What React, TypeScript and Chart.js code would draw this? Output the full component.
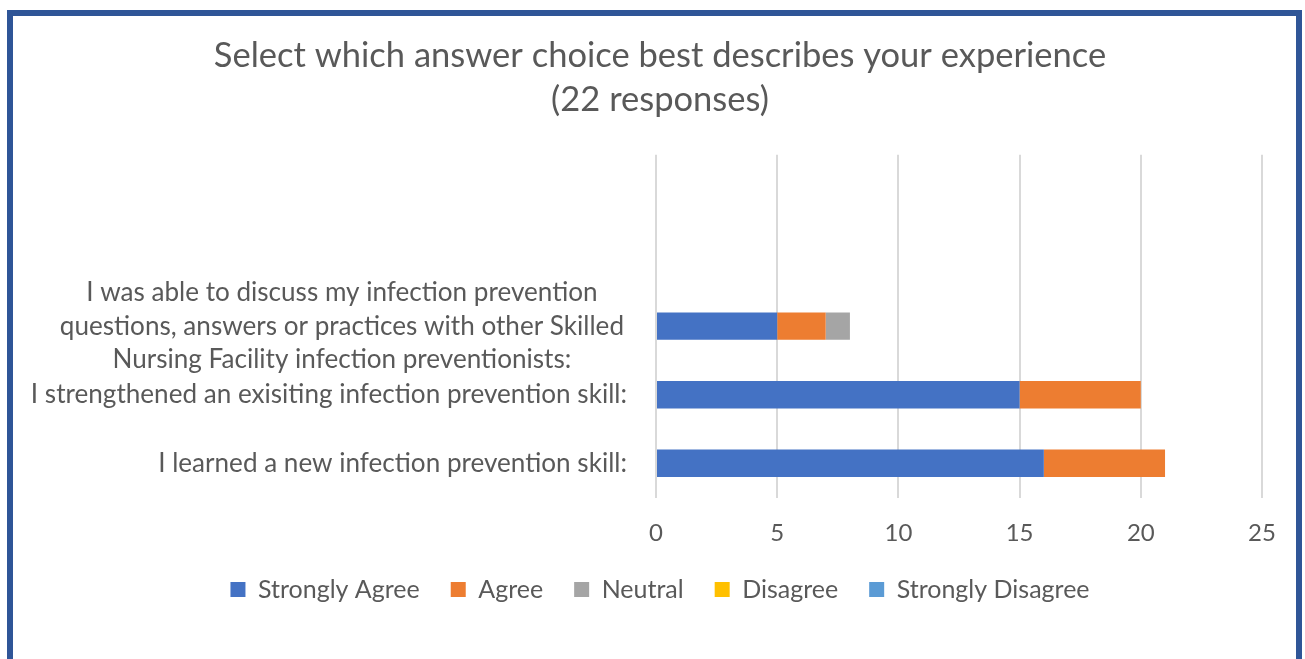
import React, { useEffect, useRef } from "react";
import { Chart, registerables } from "chart.js";
Chart.register(...registerables);

const FONT = "Lato, 'Liberation Sans', sans-serif";
const TEXT = "#595959";

const titleLines = ["Select which answer choice best describes your experience", "(22 responses)"];
const categories: (string | string[])[] = [
  "",
  "",
  [
    "I was able to discuss my infection prevention",
    "questions, answers or practices with other Skilled",
    "Nursing Facility infection preventionists:",
  ],
  "I strengthened an exisiting infection prevention skill:",
  "I learned a new infection prevention skill:",
];
const seriesNames = ["Strongly Agree", "Agree", "Neutral", "Disagree", "Strongly Disagree"];
const seriesColors = ["#4472C4", "#ED7D31", "#A5A5A5", "#FFC000", "#5B9BD5"];
const stronglyAgree = [null, null, 5, 15, 16];
const agree = [null, null, 2, 5, 5];
const neutral = [null, null, 1, 0, 0];
const disagree = [null, null, 0, 0, 0];
const stronglyDisagree = [null, null, 0, 0, 0];
const xMin = 0;
const xMax = 25;
const xStep = 5;

const yLabelPlugin = {
  id: "yLabels",
  afterDraw(chart: any) {
    const { ctx, chartArea, scales } = chart;
    const y = scales.y;
    ctx.save();
    ctx.font = `26.1px ${FONT}`;
    ctx.fillStyle = TEXT;
    ctx.textBaseline = "middle";
    ctx.textAlign = "right";
    (chart.data.labels as any[]).forEach((lab, i) => {
      const lines: string[] = Array.isArray(lab) ? lab : [lab];
      if (!lines.join("")) return;
      const widths = lines.map((l) => ctx.measureText(l).width);
      const maxW = Math.max(...widths);
      const right = lines.length > 1 ? chartArea.left - 32 : chartArea.left - 29;
      const yc = y.getPixelForValue(i);
      const lh = 33.5;
      lines.forEach((l, j) =>
        ctx.fillText(l, right - (maxW - widths[j]) / 2, yc + (j - (lines.length - 1) / 2) * lh)
      );
    });
    ctx.restore();
  },
};

export default function App() {
  const ref = useRef<HTMLCanvasElement>(null);
  useEffect(() => {
    if (!ref.current) return;
    const all = [stronglyAgree, agree, neutral, disagree, stronglyDisagree];
    const chart = new Chart(ref.current, {
      type: "bar",
      data: {
        labels: categories as any,
        datasets: all.map((d, i) => ({
          label: seriesNames[i],
          data: d as any,
          backgroundColor: seriesColors[i],
          borderWidth: 0,
          categoryPercentage: 1,
          barPercentage: 0.4,
        })),
      },
      options: {
        indexAxis: "y",
        animation: false,
        responsive: false,
        maintainAspectRatio: false,
        layout: { padding: { left: 45, right: 34, top: 0, bottom: 47 } },
        plugins: {
          tooltip: { enabled: false },
          title: {
            display: true,
            text: titleLines,
            color: TEXT,
            font: { family: FONT, size: 34.5, weight: "normal", lineHeight: 1.3 },
            padding: { top: 17, bottom: 32 },
          },
          legend: {
            position: "bottom",
            labels: {
              color: TEXT,
              font: { family: FONT, size: 25 },
              boxWidth: 15,
              boxHeight: 15,
              padding: 31,
            },
          },
        },
        scales: {
          x: {
            stacked: true,
            min: xMin,
            max: xMax,
            ticks: {
              stepSize: xStep,
              color: TEXT,
              font: { family: FONT, size: 24, lineHeight: 1.1 },
              padding: 0,
            },
            grid: {
              color: "#D9D9D9",
              lineWidth: 2,
              drawTicks: true,
              tickLength: 22,
              tickColor: "rgba(0,0,0,0)",
            },
            border: { display: false },
          },
          y: {
            stacked: true,
            ticks: { display: false },
            grid: { display: false, drawTicks: false },
            border: { display: false },
            afterFit: (s: any) => {
              s.width = 598;
            },
          },
        },
      },
      plugins: [yLabelPlugin],
    });
    return () => chart.destroy();
  }, []);
  return (
    <div
      style={{
        position: "absolute",
        left: 7,
        top: 10,
        width: 1295,
        height: 700,
        border: "6px solid #2F5597",
        boxSizing: "border-box",
        background: "#fff",
      }}
    >
      <canvas ref={ref} width={1283} height={643} style={{ display: "block" }} />
    </div>
  );
}
